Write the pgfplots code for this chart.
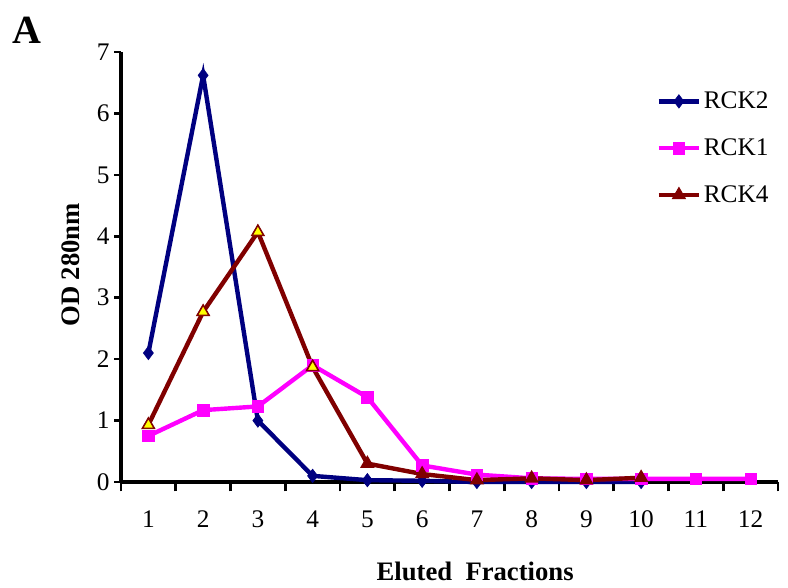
\documentclass[border=0pt]{standalone}
\usepackage{fontspec}
\setmainfont{Liberation Serif}
\usepackage{pgfplots}
\pgfplotsset{compat=1.18}
\definecolor{rcknavy}{RGB}{0,0,128}
\definecolor{rckmag}{RGB}{255,0,255}
\definecolor{rckred}{RGB}{128,0,0}
\definecolor{rckyel}{RGB}{255,255,0}
\begin{document}
\begin{tikzpicture}
\begin{axis}[
  scale only axis,width=492.75pt,height=322.5pt,
  xmin=0.5,xmax=12.5,ymin=0,ymax=7,
  axis lines=left,axis line style={black,line width=2.6pt,-},
  xtick={1,...,12},ytick={0,1,...,7},
  minor xtick={0.5,1.5,...,12.5},
  major x tick style={draw=none},
  tick align=outside,major tick length=5pt,minor tick length=7pt,
  tick style={black,line width=2pt},
  xticklabel style={yshift=-13pt},
  tick label style={font=\fontsize{19}{22}\selectfont},
  /pgf/number format/assume math mode=true,
  xlabel={\textbf{Eluted\ \ Fractions}},ylabel={\textbf{OD 280nm}},
  label style={font=\fontsize{20}{22}\selectfont},
  xlabel style={at={(axis description cs:0.539,-0.209)},anchor=center},
  ylabel style={at={(axis description cs:-0.077,0.505)},anchor=center},
  legend style={draw=none,fill=none,at={(rel axis cs:0.815,0.92)},anchor=north west,
    font=\fontsize{19}{22}\selectfont,row sep=17pt,inner xsep=0pt},
  legend cell align=left,
  legend image code/.code={\draw[#1] (0pt,0pt) -- (15pt,0pt);\draw[#1,mark repeat=2,mark phase=2] plot coordinates {(0pt,0pt) (15pt,0pt) (30pt,0pt)};},
  clip=false]
\addplot[color=rcknavy,line width=3.3pt,mark=diamond*,mark size=5pt,mark options={solid,line width=0.5pt}] coordinates {
  (1,2.10) (2,6.62) (3,1.00) (4,0.10) (5,0.03) (6,0.02) (7,0.00) (8,0.00) (9,0.00) (10,0.00)
};
\addlegendentry{RCK2}
\addplot[color=rckmag,line width=3.3pt,mark=square*,mark size=4.3pt,mark options={solid,line width=0.5pt}] coordinates {
  (1,0.75) (2,1.17) (3,1.23) (4,1.90) (5,1.38) (6,0.27) (7,0.12) (8,0.06) (9,0.05) (10,0.05) (11,0.05) (12,0.05)
};
\addlegendentry{RCK1}
\addplot[color=rckred,line width=3.3pt,mark=triangle*,mark size=5.5pt,mark options={solid,line width=0.8pt}] coordinates {
  (1,0.93) (2,2.77) (3,4.07) (4,1.87) (5,0.30) (6,0.13) (7,0.03) (8,0.06) (9,0.03) (10,0.07)
};
\addlegendentry{RCK4}
\addplot[only marks,mark=triangle*,mark size=4.8pt,
  mark options={draw=rckred,fill=rckyel,line width=0.8pt},forget plot] coordinates {
  (1,0.93) (2,2.77) (3,4.07) (4,1.87)
};
\node[font=\fontsize{30}{32}\selectfont\bfseries] at (rel axis cs:-0.143,1.051) {A};
\end{axis}
\pgfresetboundingbox
\path[use as bounding box] (-90.75pt,-78.75pt) rectangle (500.25pt,361.5pt);
\end{tikzpicture}
\end{document}
